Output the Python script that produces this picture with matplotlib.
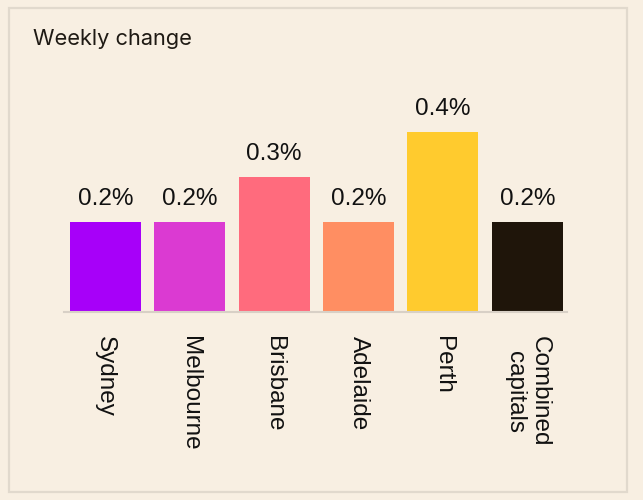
import matplotlib
matplotlib.use("Agg")
import matplotlib.pyplot as plt
from matplotlib.patches import Rectangle

cities = ["Sydney", "Melbourne", "Brisbane", "Adelaide", "Perth", "Combined\ncapitals"]
weekly_change = [0.2, 0.2, 0.3, 0.2, 0.4, 0.2]
value_labels = ["0.2%", "0.2%", "0.3%", "0.2%", "0.4%", "0.2%"]
bar_colors = ["#A700F9", "#DB3AD2", "#FF6B7D", "#FF8E62", "#FFCB2E", "#1F150A"]

BG = "#F8EFE2"
W, H = 643, 500

plt.rcParams["font.family"] = ["Liberation Sans", "DejaVu Sans"]

fig = plt.figure(figsize=(W / 100, H / 100), dpi=100, facecolor=BG)

# card border
fig.patches.append(Rectangle((9 / W, 8 / H), 618 / W, 484 / H,
                             transform=fig.transFigure, fill=False,
                             edgecolor="#E1D9CD", linewidth=1.6))

fig.text(33 / W, 1 - 45 / H, "Weekly change", fontsize=15.7, color="#1F1A14",
         family=["Inter", "DejaVu Sans"], va="baseline", ha="left")

ax = fig.add_axes([64 / W, 188 / H, 503 / W, 0.45])
ax.set_facecolor(BG)
x = list(range(len(cities)))
ax.bar(x, weekly_change, width=0.84, color=bar_colors)
ax.set_xlim(-0.49, 5.47)
ax.set_ylim(0, 0.5)

for xi, val, lab in zip(x, weekly_change, value_labels):
    ax.annotate(lab, (xi, val), xytext=(0, 12.5), textcoords="offset points",
                ha="center", va="baseline", fontsize=17.5, color="#111111")

ax.set_xticks(x)
ax.set_xticklabels(cities, rotation=-90, fontsize=17.5, color="#111111",
                   va="top", ha="center", multialignment="center")
ax.tick_params(axis="x", length=0, pad=17.5)
ax.set_yticks([])
for side in ["top", "left", "right"]:
    ax.spines[side].set_visible(False)
ax.spines["bottom"].set_color("#D8D0C6")
ax.spines["bottom"].set_linewidth(1.5)

fig.savefig("out.png", dpi=100, facecolor=BG)
